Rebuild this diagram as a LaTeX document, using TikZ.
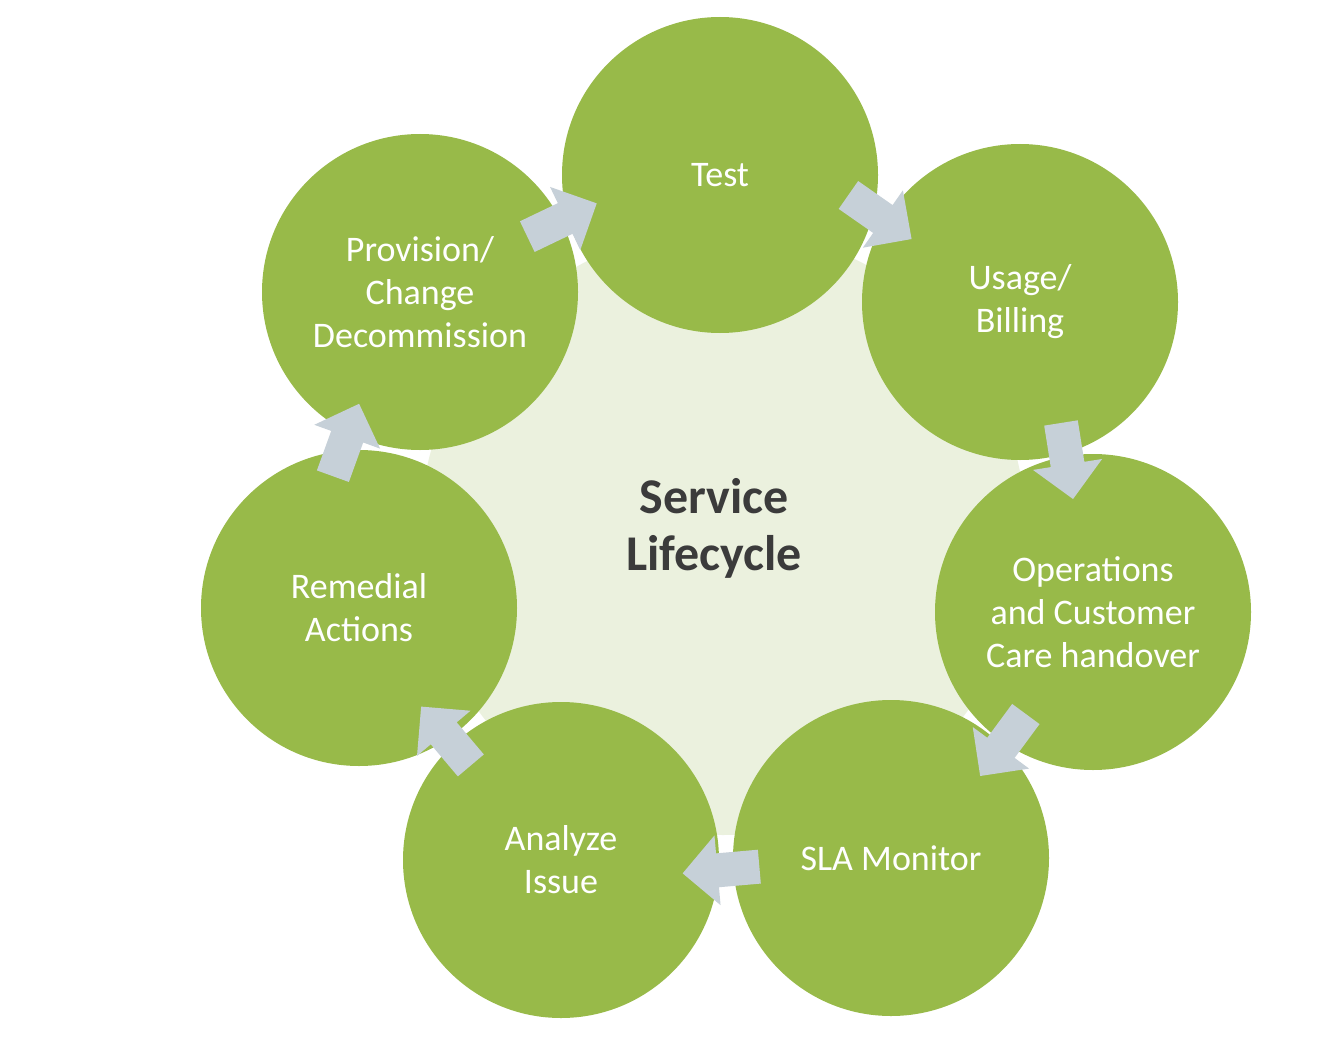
\documentclass[tikz,border=0pt]{standalone}
\usepackage{fontspec}
\setmainfont{Carlito}
\definecolor{leaf}{HTML}{98BA49}
\definecolor{pale}{HTML}{EBF1DE}
\definecolor{arrowgray}{HTML}{C6D0D8}
\definecolor{titlegray}{HTML}{3B3B3B}
\begin{document}
\begin{tikzpicture}[x=1pt,y=-1pt,
  stage/.style={circle, fill=leaf, minimum size=316pt, inner sep=0pt,
    text=white, align=center, font=\fontsize{36}{43}\selectfont},
  hub/.style={circle, fill=pale, minimum size=606pt, inner sep=0pt},
  blockarrow/.pic={\fill[arrowgray] (-38.5,-17) -- (3.5,-17) -- (3.5,-35) -- (38.5,0)
      -- (3.5,35) -- (3.5,17) -- (-38.5,17) -- cycle;}]
\useasboundingbox (0,0) rectangle (1344,1046);
\node[hub] (hub) at (723,532) {};
\node[stage] (test) at (720,175) {Test};
\node[stage] (usage) at (1020,302) {Usage/\\Billing};
\node[stage] (ops) at (1093,612) {Operations\\and Customer\\Care handover};
\node[stage] (sla) at (891,858) {SLA Monitor};
\node[stage] (analyze) at (561,860) {Analyze\\Issue};
\node[stage] (remedial) at (359,608) {Remedial\\Actions};
\node[stage] (prov) at (420,292) {Provision/\\Change\\Decommission};
\node[align=center, text=titlegray, font=\fontsize{50}{57}\selectfont\bfseries] (title) at (714,528) {Service\\Lifecycle};
\pic (a1) [rotate=25.6] at (562,220) {blockarrow};
\pic (a2) [rotate=-34.9] at (880,217) {blockarrow};
\pic (a3) [rotate=-81] at (1067,461) {blockarrow};
\pic (a4) [rotate=-126.4] at (1003,745) {blockarrow};
\pic (a5) [rotate=185] at (721,870) {blockarrow};
\pic (a6) [rotate=130.2] at (446,736) {blockarrow};
\pic (a7) [rotate=70.1] at (346,440) {blockarrow};
\end{tikzpicture}
\end{document}
